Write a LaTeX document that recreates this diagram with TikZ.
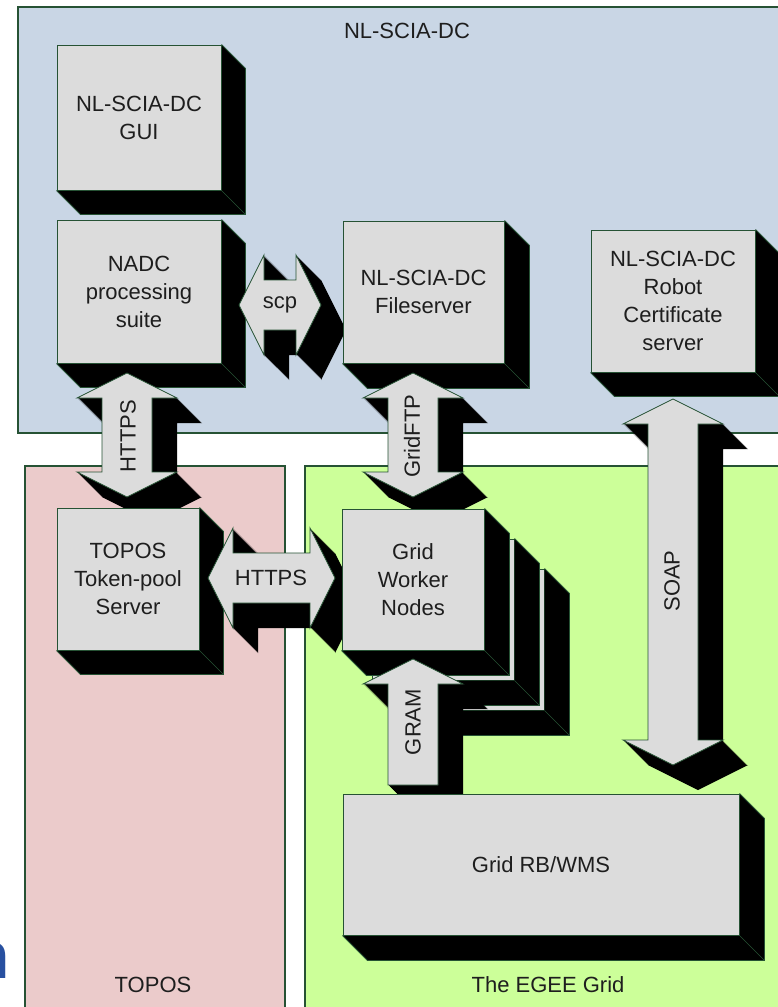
\documentclass[tikz,border=0pt]{standalone}
\usepackage{fontspec}
\setmainfont{Liberation Sans}
\usetikzlibrary{calc}
\definecolor{bord}{RGB}{38,82,52}
\definecolor{bluebg}{RGB}{201,214,229}
\definecolor{pinkbg}{RGB}{235,203,203}
\definecolor{greenbg}{RGB}{204,255,153}
\definecolor{facec}{RGB}{220,220,220}
\definecolor{txt}{RGB}{30,30,30}
\definecolor{nblue}{RGB}{40,80,160}
\pgfdeclarelayer{regions}\pgfdeclarelayer{stack}\pgfdeclarelayer{shadows}
\pgfsetlayers{regions,stack,shadows,main}
\newcommand\cubeshadow[2]{%
  \fill[black] (#1.north east) -- ++(#2,#2) -- ($(#1.south east)+(#2,#2)$) -- ($(#1.south west)+(#2,#2)$) -- (#1.south west) -- (#1.south east) -- cycle;
  \draw[bord, line width=0.8pt] (#1.north east) -- ++(#2,#2) -- ($(#1.south east)+(#2,#2)$) -- ($(#1.south west)+(#2,#2)$) -- (#1.south west);
  \draw[bord, line width=0.6pt] (#1.south east) -- ++(#2,#2);}
\newcommand\vdarrow[3]{%
  \begin{pgfonlayer}{shadows}
  \foreach \k in {1,...,25}{\fill[black, shift={(\k,\k)}] (#1,#2) -- ({#1+50},{#2+25}) -- ({#1+25},{#2+25}) -- ({#1+25},{#3-25}) -- ({#1+50},{#3-25}) -- (#1,#3) -- ({#1-50},{#3-25}) -- ({#1-25},{#3-25}) -- ({#1-25},{#2+25}) -- ({#1-50},{#2+25}) -- cycle;}
  \end{pgfonlayer}
  \draw[blockface] (#1,#2) -- ({#1+50},{#2+25}) -- ({#1+25},{#2+25}) -- ({#1+25},{#3-25}) -- ({#1+50},{#3-25}) -- (#1,#3) -- ({#1-50},{#3-25}) -- ({#1-25},{#3-25}) -- ({#1-25},{#2+25}) -- ({#1-50},{#2+25}) -- cycle;}
\newcommand\hdarrow[3]{%
  \begin{pgfonlayer}{shadows}
  \foreach \k in {1,...,25}{\fill[black, shift={(\k,\k)}] (#2,#1) -- ({#2+25},{#1-50}) -- ({#2+25},{#1-25}) -- ({#3-25},{#1-25}) -- ({#3-25},{#1-50}) -- (#3,#1) -- ({#3-25},{#1+50}) -- ({#3-25},{#1+25}) -- ({#2+25},{#1+25}) -- ({#2+25},{#1+50}) -- cycle;}
  \end{pgfonlayer}
  \draw[blockface] (#2,#1) -- ({#2+25},{#1-50}) -- ({#2+25},{#1-25}) -- ({#3-25},{#1-25}) -- ({#3-25},{#1-50}) -- (#3,#1) -- ({#3-25},{#1+50}) -- ({#3-25},{#1+25}) -- ({#2+25},{#1+25}) -- ({#2+25},{#1+50}) -- cycle;}
\newcommand\uparw[3]{%
  \begin{pgfonlayer}{shadows}
  \foreach \k in {1,...,25}{\fill[black, shift={(\k,\k)}] (#1,#2) -- ({#1+50},{#2+25}) -- ({#1+25},{#2+25}) -- ({#1+25},#3) -- ({#1-25},#3) -- ({#1-25},{#2+25}) -- ({#1-50},{#2+25}) -- cycle;}
  \end{pgfonlayer}
  \draw[blockface] (#1,#2) -- ({#1+50},{#2+25}) -- ({#1+25},{#2+25}) -- ({#1+25},#3) -- ({#1-25},#3) -- ({#1-25},{#2+25}) -- ({#1-50},{#2+25}) -- cycle;}
\begin{document}
\begin{tikzpicture}[x=1pt,y=-1pt,
  lbl/.style={font=\fontsize{22}{28}\selectfont, text=txt, align=center, inner sep=0pt},
  cube/.style={lbl, draw=bord, fill=facec, line width=1pt},
  region/.style={draw=bord, line width=1.2pt},
  blockface/.style={fill=facec, draw=bord, line width=0.8pt}]
\useasboundingbox (0,0) rectangle (777,1007);
\clip (0,0) rectangle (777,1007);
% regions
\begin{pgfonlayer}{regions}
\fill[white] (0,0) rectangle (777,1007);
\draw[region, fill=bluebg] (18,7) rectangle (800,433);
\draw[region, fill=pinkbg] (25,466) rectangle (285,1030);
\draw[region, fill=greenbg] (305,466) rectangle (800,1030);
\end{pgfonlayer}
\node[lbl] (tnl) at (407,31) {NL-SCIA-DC};
\node[lbl] (ttopos) at (153,985) {TOPOS};
\node[lbl] (tegee) at (548,985) {The EGEE Grid};
\node[anchor=base east, inner sep=0pt, text=nblue, font=\bfseries\fontsize{66}{66}\selectfont] (frag) at (10,978) {n};
% worker stack (back boxes)
\begin{pgfonlayer}{stack}
\node[cube, minimum width=142pt, minimum height=141pt] (w3) at (473,639.5) {};
\cubeshadow{w3}{25}
\node[cube, minimum width=142pt, minimum height=141pt] (w2) at (443,609.5) {};
\cubeshadow{w2}{25}
\end{pgfonlayer}
% arrows
\vdarrow{127}{373}{497}
\node[lbl, rotate=90] (lhttps1) at (128,436) {HTTPS};
\vdarrow{413}{373}{497}
\node[lbl, rotate=90] (lgridftp) at (412,436) {GridFTP};
\vdarrow{673}{399}{765}
\node[lbl, rotate=90] (lsoap) at (672,581) {SOAP};
\hdarrow{305}{239}{321}
\node[lbl] (lscp) at (280,305) {scp};
\hdarrow{578}{208}{335}
\node[lbl] (lhttps2) at (271,578) {HTTPS};
\uparw{413}{659}{785}
\node[lbl, rotate=90] (lgram) at (413,722) {GRAM};
% boxes
\node[cube, minimum width=164pt, minimum height=145pt] (gui) at (139,117.5) {NL-SCIA-DC\\GUI};
\node[cube, minimum width=164pt, minimum height=143pt] (nadc) at (139,291.5) {NADC\\processing\\suite};
\node[cube, minimum width=161pt, minimum height=142pt] (fs) at (423.5,292) {NL-SCIA-DC\\Fileserver};
\node[cube, minimum width=164pt, minimum height=142pt] (robot) at (673,301) {NL-SCIA-DC\\Robot\\Certificate\\server};
\node[cube, minimum width=142pt, minimum height=142pt] (topos) at (128,579) {TOPOS\\Token-pool\\Server};
\node[cube, minimum width=142pt, minimum height=141pt] (w1) at (413,579.5) {Grid\\Worker\\Nodes};
\node[cube, minimum width=396pt, minimum height=141pt] (rb) at (541,864.5) {Grid RB/WMS};
\begin{pgfonlayer}{shadows}
\cubeshadow{gui}{24}
\cubeshadow{nadc}{24}
\cubeshadow{fs}{25}
\cubeshadow{robot}{24}
\cubeshadow{topos}{24}
\cubeshadow{w1}{25}
\cubeshadow{rb}{25}
\end{pgfonlayer}
\end{tikzpicture}
\end{document}
